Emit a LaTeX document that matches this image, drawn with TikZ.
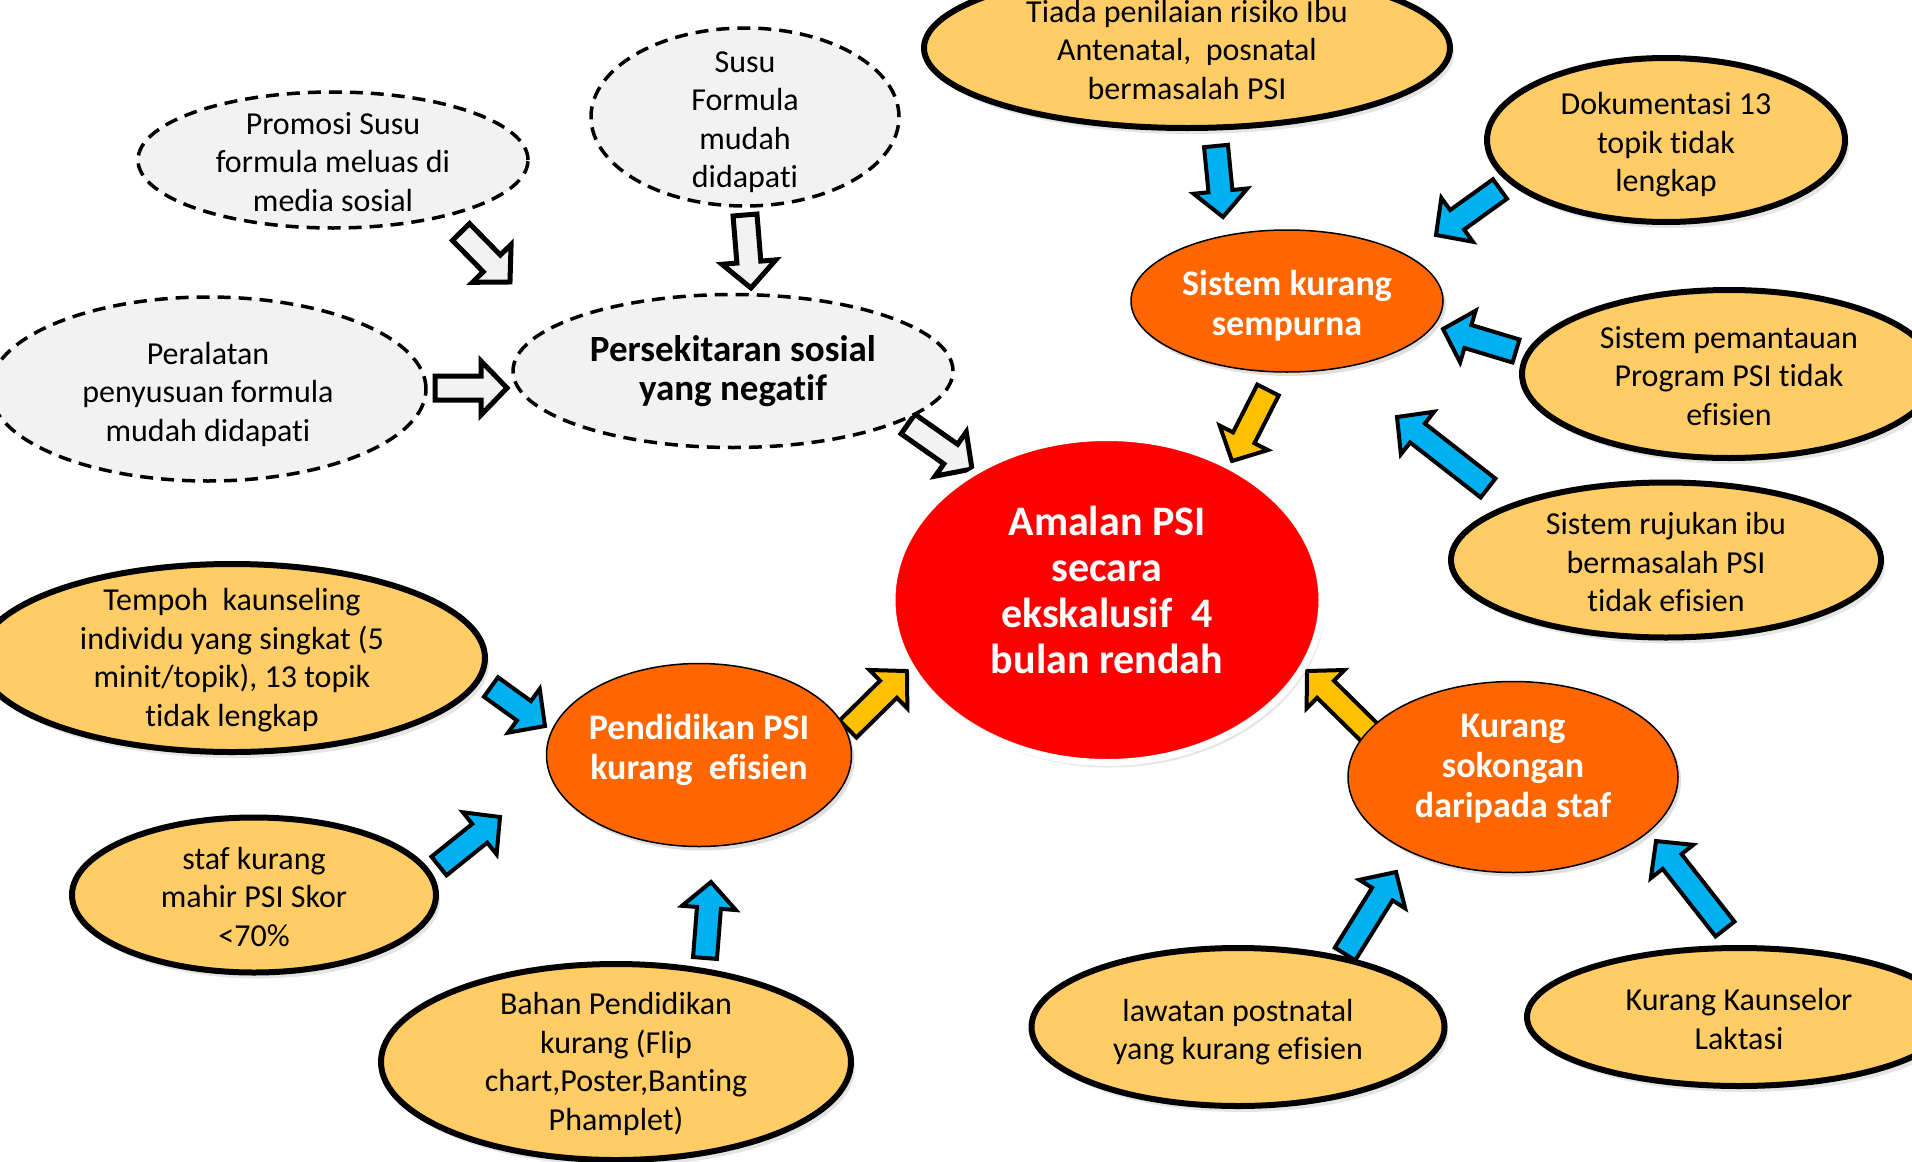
\documentclass[tikz,border=0pt]{standalone}
\usepackage{fontspec}
\setmainfont{Carlito}[Ligatures=NoCommon]
\usepackage{tikz}
\usetikzlibrary{calc}
\usetikzlibrary{shapes.geometric}
\usetikzlibrary{shadows}

\definecolor{rootred}{HTML}{FF0000}
\definecolor{branchorange}{HTML}{FF6600}
\definecolor{causefill}{HTML}{FFCC66}
\definecolor{socialgray}{HTML}{F2F2F2}
\definecolor{arrowblue}{HTML}{00B0F0}
\definecolor{arrowyellow}{HTML}{FFC000}

% block arrow from tail coordinate to head coordinate
\newcommand{\fatarrow}[3]{%
  \draw[#1] let \p1=(#2), \p2=(#3),
      \n1={atan2(\y2-\y1,\x2-\x1)}, \n2={veclen(\x2-\x1,\y2-\y1)} in
    [shift={(\p1)}, rotate=\n1]
    (0pt,-12pt) -- ({\n2-26pt},-12pt) -- ({\n2-26pt},-27pt) -- ({\n2+0pt},0pt)
    -- ({\n2-26pt},27pt) -- ({\n2-26pt},12pt) -- (0pt,12pt) -- cycle;
}

\begin{document}
\begin{tikzpicture}[x=1pt, y=-1pt,
  wh/.style 2 args={minimum width=#1pt, minimum height=#2pt},
  root/.style={ellipse, fill=rootred, draw=white, line width=7pt, inner sep=0pt,
    drop shadow={opacity=0.2, shadow xshift=3pt, shadow yshift=-5pt}},
  branch/.style={ellipse, fill=branchorange, draw=black, line width=1.5pt, inner sep=0pt,
    drop shadow={opacity=0.25, shadow xshift=3pt, shadow yshift=-4pt}},
  cause/.style={ellipse, fill=causefill, draw=black, line width=6pt, inner sep=0pt,
    drop shadow={opacity=0.2, shadow xshift=4pt, shadow yshift=-6pt}},
  social/.style={ellipse, fill=socialgray, draw=black, line width=3.5pt,
    dash pattern=on 13pt off 8pt, inner sep=0pt},
  roottext/.style={font=\fontsize{42}{46}\selectfont\bfseries, text=white, align=center},
  branchtext/.style={font=\fontsize{36}{40}\selectfont\bfseries, text=white, align=center},
  causetext/.style={font=\fontsize{32}{38.5}\selectfont, align=center, yshift=-2pt},
  socialbold/.style={font=\fontsize{37}{39}\selectfont\bfseries, align=center},
  grayarrow/.style={fill=socialgray, draw=black, line width=5pt},
  bluearrow/.style={fill=arrowblue, draw=black, line width=4pt},
  yellowarrow/.style={fill=arrowyellow, draw=black, line width=4pt},
]
  \clip (0,0) rectangle (1912,1162);
  \fill[white] (0,0) rectangle (1912,1162);

  % arrows (drawn first, the ellipses sit on their tails)
  \foreach \k/\tx/\ty/\hx/\hy in {sa/461/232/510/282, sb/745/215/751/288,
      sc/435/388/507/388, sd/908/424/972/469} {
    \coordinate (\k-tail) at (\tx,\ty);
    \coordinate (\k-head) at (\hx,\hy);
    \fatarrow{grayarrow}{\k-tail}{\k-head}
  }
  \foreach \k/\tx/\ty/\hx/\hy in {ba/1216/146/1223/217, bb/1500/189/1436/235,
      bc/1516/351/1443/329, bd/1488/488/1397/417, be/491/687/545/726,
      bf/439/866/500/817, bg/705/958/711/882, bh/1345/954/1396/872,
      bi/1725/929/1656/841} {
    \coordinate (\k-tail) at (\tx,\ty);
    \coordinate (\k-head) at (\hx,\hy);
    \fatarrow{bluearrow}{\k-tail}{\k-head}
  }
  \foreach \k/\tx/\ty/\hx/\hy in {ya/1268/390/1232/461, yb/848/729/907/671,
      yc/1372/735/1307/671} {
    \coordinate (\k-tail) at (\tx,\ty);
    \coordinate (\k-head) at (\hx,\hy);
    \fatarrow{yellowarrow}{\k-tail}{\k-head}
  }

  % social environment
  \node[social, wh={390}{136}, label={[causetext]center:{Promosi Susu\\formula meluas di\\media sosial}}]
    (promosi) at (333,160) {};
  \node[social, wh={308}{178}, label={[causetext, yshift=-3pt]center:{Susu\\Formula\\mudah\\didapati}}]
    (susu) at (745,117) {};
  \node[social, wh={436}{184}, label={[causetext, yshift=-3pt]center:{Peralatan\\penyusuan formula\\mudah didapati}}]
    (peralatan) at (208,389) {};
  \node[social, wh={440}{153}, label={[socialbold]center:{Persekitaran sosial\\yang negatif}}]
    (persekitaran) at (733,371) {};

  % main problem
  \node[root, wh={430}{325}, label={[roottext, yshift=10pt]center:{Amalan PSI\\secara\\ekskalusif \ 4\\bulan rendah}}]
    (root) at (1107,600) {};

  % branches
  \node[branch, wh={312}{142}, label={[branchtext, yshift=-5pt]center:{Sistem kurang\\sempurna}}]
    (sistem) at (1287,301) {};
  \node[branch, wh={305}{183}, label={[branchtext, yshift=5pt]center:{Pendidikan PSI\\kurang \ efisien}}]
    (pendidikan) at (699,755) {};
  \node[branch, wh={330}{191}, label={[branchtext, yshift=8pt]center:{Kurang\\sokongan\\daripada staf}}]
    (sokongan) at (1513,777) {};

  % causes
  \node[cause, wh={526}{160}, label={[causetext]center:{Tiada penilaian risiko Ibu\\Antenatal, \ posnatal\\bermasalah PSI}}]
    (tiada) at (1187,48) {};
  \node[cause, wh={358}{164}, label={[causetext, yshift=-3pt]center:{Dokumentasi 13\\topik tidak\\lengkap}}]
    (dokumentasi) at (1666,140) {};
  \node[cause, wh={414}{168}, label={[causetext]center:{Sistem pemantauan\\Program PSI tidak\\efisien}}]
    (pemantauan) at (1729,374) {};
  \node[cause, wh={430}{155}, label={[causetext]center:{Sistem rujukan ibu\\bermasalah PSI\\tidak efisien}}]
    (rujukan) at (1666,560) {};
  \node[cause, wh={424}{138}, label={[causetext]center:{Kurang Kaunselor\\Laktasi}}]
    (kaunselor) at (1739,1017) {};
  \node[cause, wh={413}{158}, label={[causetext, yshift=-3pt]center:{lawatan postnatal\\yang kurang efisien}}]
    (lawatan) at (1238,1027) {};
  \node[cause, wh={470}{196}, label={[causetext]center:{Bahan Pendidikan\\kurang (Flip\\chart,Poster,Banting\\Phamplet)}}]
    (bahan) at (616,1062) {};
  \node[cause, wh={364}{155}, label={[causetext]center:{staf kurang\\mahir PSI Skor\\<70\%}}]
    (stafmahir) at (254,895) {};
  \node[cause, wh={506}{188}, label={[causetext]center:{Tempoh \ kaunseling\\individu yang singkat (5\\minit/topik), 13 topik\\tidak lengkap}}]
    (tempoh) at (232,658) {};
\end{tikzpicture}
\end{document}
